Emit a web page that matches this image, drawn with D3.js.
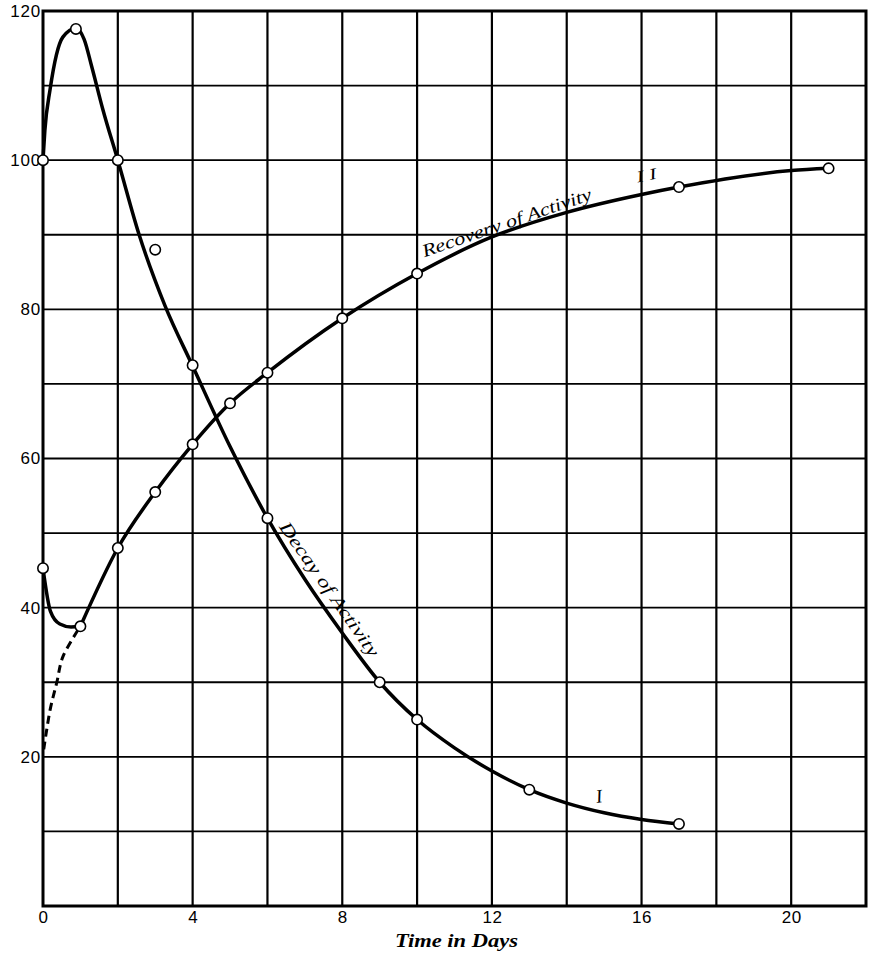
<!DOCTYPE html>
<html>
<head>
<meta charset="utf-8">
<script src="https://cdn.jsdelivr.net/npm/d3@7"></script>
<style>
  html, body { margin: 0; padding: 0; background: #fff; }
  svg { display: block; }
</style>
</head>
<body>
<svg id="chart" width="876" height="961"></svg>
<script>
// ---- Data ----
const xTicks = [0, 4, 8, 12, 16, 20];
const yTicks = [20, 40, 60, 80, 100, 120];
const xGrid = [2, 4, 6, 8, 10, 12, 14, 16, 18, 20];
const yGrid = [10, 20, 30, 40, 50, 60, 70, 80, 90, 100, 110];

// Curve I : decay of activity — observed points
const decayDays   = [0, 0.88, 2, 3, 4, 6, 9, 10, 13, 17];
const decayValues = [100, 117.6, 100, 88, 72.5, 52, 30, 25, 15.6, 11];
// Curve I : drawn smooth line
const decayLineDays   = [0, 0.05, 0.19, 0.53, 0.88, 1.1, 1.3, 1.6, 2, 2.57, 3.26, 4, 5, 6, 7, 8, 9, 10, 11, 12, 13, 14, 15, 16, 17];
const decayLineValues = [100, 104, 109.5, 116.5, 117.7, 116.2, 112.6, 106.8, 100, 90, 80.5, 72.4, 61.6, 52, 43.8, 36.6, 30, 25, 21.2, 18.1, 15.6, 13.8, 12.5, 11.6, 11];

// Curve II : recovery of activity — observed points
const recDays   = [0, 1, 2, 3, 4, 5, 6, 8, 10, 17, 21];
const recValues = [45.3, 37.5, 48, 55.5, 61.9, 67.4, 71.5, 78.8, 84.8, 96.4, 98.9];
// Curve II : initial dip (drawn line, 0 → 1 day)
const recHookDays   = [0, 0.2, 0.45, 0.75, 1];
const recHookValues = [45.3, 39.5, 37.8, 37.4, 37.5];
// Curve II : main rising line (1 → 21 days)
const recLineDays   = [1, 2, 3, 4, 5, 6, 8, 10, 12, 14, 16, 17, 20, 21];
const recLineValues = [37.5, 48, 55.5, 61.9, 67.4, 71.5, 78.8, 84.8, 89.7, 93, 95.4, 96.4, 98.6, 98.9];
// Curve II : dashed extrapolation towards t = 0
const recDashDays   = [0.02, 0.19, 0.37, 0.53, 1];
const recDashValues = [21.0, 26.3, 30, 33.4, 37.5];

// Labels
const xTitle = "Time in Days";
const recoveryLabel = "Recovery of Activity";
const decayLabel = "Decay of Activity";
const recCurveName = "I I";
const decCurveName = "I";

// ---- Chart ----
const svg = d3.select("#chart");
const x = d3.scaleLinear().domain([0, 22]).range([43, 866]);
const y = d3.scaleLinear().domain([0, 120]).range([906, 11]);

const ink = "#000";

// grid
svg.append("g").selectAll("line").data(xGrid).join("line")
  .attr("x1", d => x(d)).attr("x2", d => x(d))
  .attr("y1", y(120)).attr("y2", y(0))
  .attr("stroke", ink).attr("stroke-width", 2.2);
svg.append("g").selectAll("line").data(yGrid).join("line")
  .attr("x1", x(0)).attr("x2", x(22))
  .attr("y1", d => y(d)).attr("y2", d => y(d))
  .attr("stroke", ink).attr("stroke-width", 1.8);

// frame
svg.append("rect")
  .attr("x", x(0)).attr("y", y(120))
  .attr("width", x(22) - x(0)).attr("height", y(0) - y(120))
  .attr("fill", "none").attr("stroke", ink).attr("stroke-width", 3);

// axes tick labels
const xAxis = d3.axisBottom(x).tickValues(xTicks).tickSize(0).tickPadding(5).tickFormat(d3.format("d"));
const gx = svg.append("g").attr("transform", `translate(0,${y(0)})`).call(xAxis);
gx.select(".domain").remove();
gx.selectAll("text").attr("font-family", "Liberation Sans, Arial, sans-serif")
  .attr("font-size", 17).attr("fill", ink).attr("letter-spacing", 0.5);

const yAxis = d3.axisLeft(y).tickValues(yTicks).tickSize(0).tickPadding(2).tickFormat(d3.format("d"));
const gy = svg.append("g").attr("transform", `translate(${x(0)},0)`).call(yAxis);
gy.select(".domain").remove();
gy.selectAll("text").attr("font-family", "Liberation Sans, Arial, sans-serif")
  .attr("font-size", 17).attr("fill", ink).attr("letter-spacing", 0.8);

// lines
const line = d3.line().x(d => x(d[0])).y(d => y(d[1])).curve(d3.curveMonotoneX);
const smooth = d3.line().x(d => x(d[0])).y(d => y(d[1])).curve(d3.curveCatmullRom.alpha(0.5));

function drawLine(days, vals, gen, width, dash) {
  const p = svg.append("path")
    .datum(days.map((d, i) => [d, vals[i]]))
    .attr("d", gen).attr("fill", "none").attr("stroke", ink).attr("stroke-width", width)
    .attr("stroke-linejoin", "round");
  if (dash) p.attr("stroke-dasharray", dash);
  else p.attr("stroke-linecap", "round");
  return p;
}
drawLine(decayLineDays, decayLineValues, line, 3.5);
drawLine(recHookDays, recHookValues, line, 3.5);
drawLine(recLineDays, recLineValues, line, 3.5);
drawLine(recDashDays, recDashValues, smooth, 3, "8,5");

// markers
const allPts = decayDays.map((d, i) => [d, decayValues[i]])
  .concat(recDays.map((d, i) => [d, recValues[i]]));
svg.append("g").selectAll("circle").data(allPts).join("circle")
  .attr("cx", d => x(d[0])).attr("cy", d => y(d[1])).attr("r", 5.2)
  .attr("fill", "#fff").attr("stroke", ink).attr("stroke-width", 1.6);

// curve labels
const serif = "Liberation Serif, 'DejaVu Serif', Times, serif";
function rotLabel(txt, dx, dy, ang, size, len) {
  const t = svg.append("text")
    .attr("transform", `translate(${x(dx)},${y(dy)}) rotate(${ang})`)
    .attr("font-family", serif).attr("font-style", "italic")
    .attr("font-size", size).attr("fill", ink).text(txt);
  if (len) t.attr("textLength", len).attr("lengthAdjust", "spacingAndGlyphs");
  return t;
}
rotLabel(recoveryLabel, 10.2, 87.0, -19, 18, 178);
rotLabel(recCurveName, 15.9, 97.0, -12, 16, 20);
rotLabel(decayLabel, 6.3, 50.8, 55, 18, 160);
rotLabel(decCurveName, 14.8, 13.8, -8, 19, null);

// x title
svg.append("text")
  .attr("x", 395).attr("y", 947)
  .attr("textLength", 123).attr("lengthAdjust", "spacingAndGlyphs")
  .attr("font-family", serif).attr("font-style", "italic").attr("font-weight", "bold")
  .attr("font-size", 18).attr("fill", ink).text(xTitle);
</script>
</body>
</html>
